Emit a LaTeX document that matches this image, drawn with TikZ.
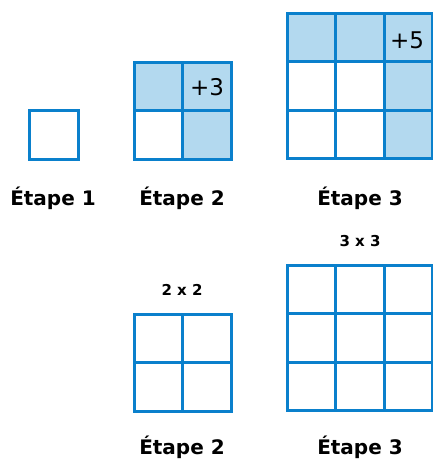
\documentclass[tikz,border=0pt]{standalone}
\usepackage{fontspec}
\setmainfont{DejaVu Sans}
\usetikzlibrary{positioning}
\definecolor{gridblue}{HTML}{0A80CC}
\definecolor{cellfill}{HTML}{B3D9EF}

\begin{document}
\begin{tikzpicture}[
    x=1pt, y=-1pt,
    every node/.style={inner sep=0pt},
    gridline/.style={draw=gridblue, line width=3pt},
    steplabel/.style={font=\fontsize{20}{24}\selectfont\bfseries},
    sizelabel/.style={font=\fontsize{15}{18}\selectfont\bfseries},
    addlabel/.style={font=\fontsize{23}{27}\selectfont},
]
\useasboundingbox (0,0) rectangle (432,461);

% Top row: growing squares
\draw[gridline] (29,110) rectangle (78,159);

\fill[cellfill] (134,62) rectangle (231,110) (182.5,110) rectangle (231,159);
\foreach \i in {0,1}
  \foreach \j in {0,1}
    \draw[gridline] ({134+48.5*\i},{62+48.5*\j}) rectangle +(48.5,48.5);

\fill[cellfill] (287,13) rectangle (432.5,61.5) (384,61.5) rectangle (432.5,159);
\foreach \i in {0,1,2}
  \foreach \j in {0,1,2}
    \draw[gridline] ({287+48.5*\i},{13+48.5*\j}) rectangle +(48.5,48.5);

\node[addlabel] (plus3) at (207,87) {+3};
\node[addlabel] (plus5) at (407,40) {+5};

\node[steplabel] (e1) at (53,198) {Étape 1};
\node[steplabel] (e2) at (182,198) {Étape 2};
\node[steplabel] (e3) at (360,198) {Étape 3};

% Bottom row: plain grids
\foreach \i in {0,1}
  \foreach \j in {0,1}
    \draw[gridline] ({134+48.5*\i},{314+48.5*\j}) rectangle +(48.5,48.5);
\foreach \i in {0,1,2}
  \foreach \j in {0,1,2}
    \draw[gridline] ({287+48.5*\i},{265+48.5*\j}) rectangle +(48.5,48.5);

\node[sizelabel] (dim2) at (182,290) {2 x 2};
\node[sizelabel] (dim3) at (360,241) {3 x 3};

\node[steplabel] (e2b) at (182,447) {Étape 2};
\node[steplabel] (e3b) at (360,447) {Étape 3};

\end{tikzpicture}
\end{document}
